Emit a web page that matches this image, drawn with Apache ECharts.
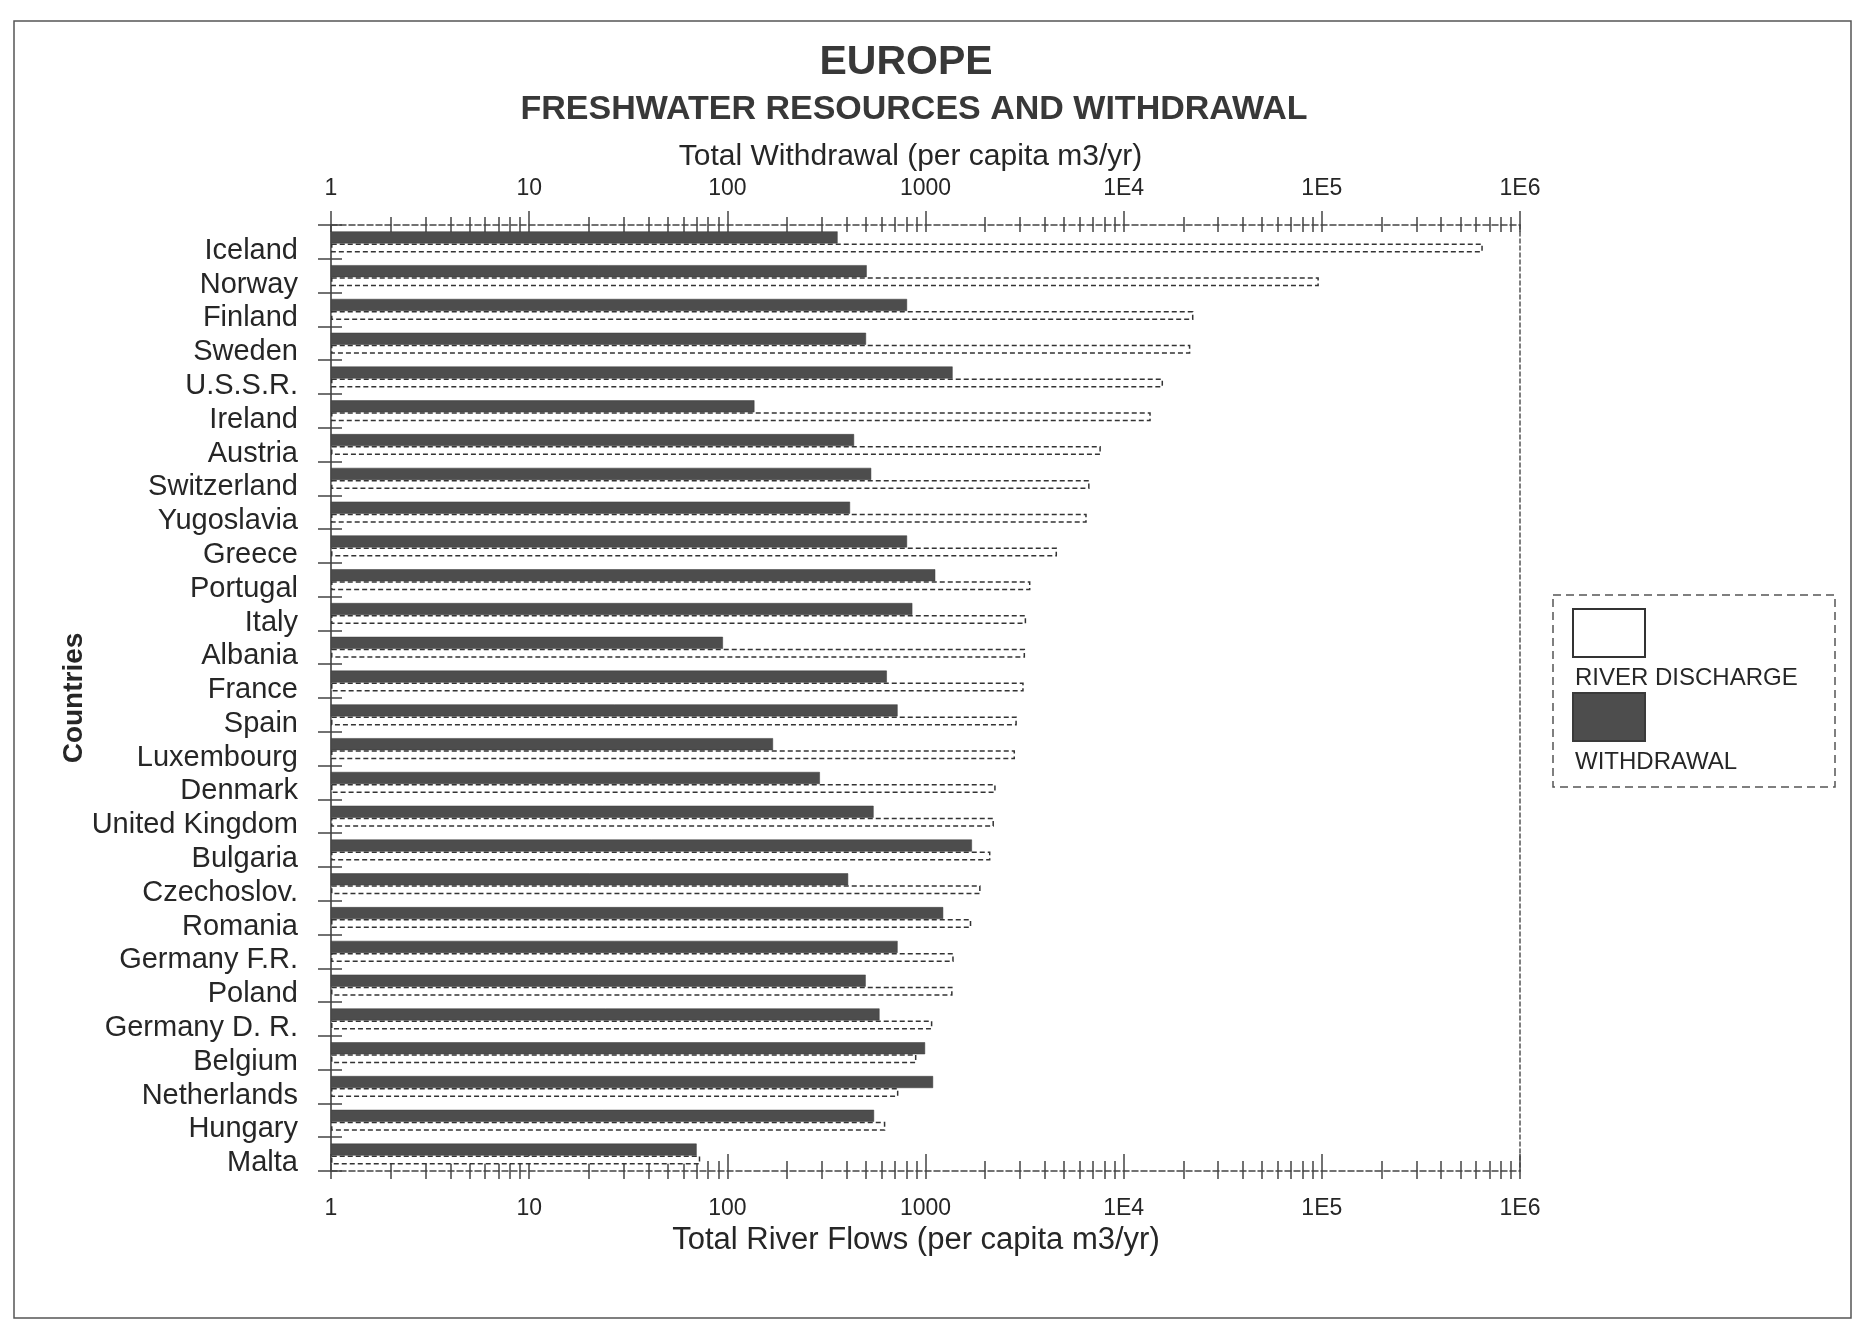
<!DOCTYPE html>
<html>
<head>
<meta charset="utf-8">
<title>Europe – Freshwater Resources and Withdrawal</title>
<script src="https://cdn.jsdelivr.net/npm/echarts@6/dist/echarts.min.js"></script>
<style>
  html, body { margin: 0; padding: 0; background: #fff; }
  #chart { width: 1867px; height: 1323px; }
</style>
</head>
<body>
<div id="chart"></div>
<script>
// Countries, top to bottom
const countries = [
  'Iceland', 'Norway', 'Finland', 'Sweden', 'U.S.S.R.', 'Ireland', 'Austria',
  'Switzerland', 'Yugoslavia', 'Greece', 'Portugal', 'Italy', 'Albania', 'France',
  'Spain', 'Luxembourg', 'Denmark', 'United Kingdom', 'Bulgaria', 'Czechoslov.',
  'Romania', 'Germany F.R.', 'Poland', 'Germany D. R.', 'Belgium', 'Netherlands',
  'Hungary', 'Malta'
];

// Total withdrawal, m3 per capita per year
const withdrawal = [
  360, 505, 807, 501, 1370, 137, 436,
  532, 416, 807, 1120, 858, 95, 638,
  723, 170, 293, 547, 1715, 407,
  1228, 723, 499, 586, 995, 1092,
  550, 70
];

// Total river flows (discharge), m3 per capita per year
const discharge = [
  649000, 96600, 22500, 21700, 15800, 13700, 7670,
  6730, 6510, 4610, 3385, 3220, 3180, 3130,
  2890, 2830, 2260, 2215, 2127, 1897,
  1702, 1388, 1370, 1083, 900, 730,
  627, 73
];

// Decade tick labels, 10^0 .. 10^6
const decadeLabels = ['1', '10', '100', '1000', '1E4', '1E5', '1E6'];

const FONT = '"Liberation Sans", Arial, Helvetica, sans-serif';
const INK = '#262626';
const LINE = '#444';

function decadeLabel(v) {
  const k = Math.round(Math.log10(v));
  return decadeLabels[k] !== undefined ? decadeLabels[k] : '';
}

// One log axis definition; the variants below differ only in what they show
function logAxis(extra) {
  return Object.assign({
    type: 'log',
    logBase: 10,
    min: 1,
    max: 1e6,
    interval: 1,
    splitLine: { show: false },
    minorSplitLine: { show: false },
    axisLine: { show: false },
    axisLabel: { show: false },
    axisTick: { show: false },
    minorTick: { show: false }
  }, extra);
}

const tickStyle = { color: LINE, width: 1.5 };

const chart = echarts.init(document.getElementById('chart'), null, { renderer: 'canvas' });

chart.setOption({
  backgroundColor: '#ffffff',
  animation: false,
  textStyle: { fontFamily: FONT },
  title: [
    {
      text: 'EUROPE',
      left: 901, top: 37, textAlign: 'center',
      textStyle: { fontFamily: FONT, fontSize: 41, fontWeight: 'bold', color: '#383838' }
    },
    {
      text: 'FRESHWATER RESOURCES AND WITHDRAWAL',
      left: 909, top: 88, textAlign: 'center',
      textStyle: { fontFamily: FONT, fontSize: 34, fontWeight: 'bold', color: '#383838' }
    }
  ],
  grid: { left: 331, right: 347, top: 225, bottom: 152, containLabel: false },
  xAxis: [
    // top axis: withdrawal scale, labels and upward ticks
    logAxis({
      position: 'top',
      name: 'Total Withdrawal (per capita m3/yr)',
      nameLocation: 'middle',
      nameGap: 47,
      nameTextStyle: { fontFamily: FONT, fontSize: 30, color: INK, padding: [0, 30, 0, 0] },
      axisLine: { show: true, lineStyle: { color: LINE, width: 1.5, type: [6, 3] } },
      axisLabel: { show: true, margin: 25, fontFamily: FONT, fontSize: 23, color: INK, formatter: decadeLabel },
      axisTick: { show: true, inside: false, length: 14, lineStyle: tickStyle },
      minorTick: { show: true, splitNumber: 9, length: 8, lineStyle: tickStyle }
    }),
    // top axis: downward halves of the crossing ticks
    logAxis({
      position: 'top',
      axisTick: { show: true, inside: true, length: 7, lineStyle: tickStyle },
      minorTick: { show: true, splitNumber: 9, length: 7, lineStyle: tickStyle }
    }),
    // bottom axis: river flow scale, labels and downward ticks
    logAxis({
      position: 'bottom',
      name: 'Total River Flows (per capita m3/yr)',
      nameLocation: 'middle',
      nameGap: 53,
      nameTextStyle: { fontFamily: FONT, fontSize: 31, color: INK, padding: [0, 19, 0, 0] },
      axisLine: { show: true, lineStyle: { color: LINE, width: 1.5, type: [6, 3] } },
      axisLabel: { show: true, margin: 26, fontFamily: FONT, fontSize: 23, color: INK, formatter: decadeLabel },
      axisTick: { show: true, inside: false, length: 8, lineStyle: tickStyle },
      minorTick: { show: true, splitNumber: 9, length: 8, lineStyle: tickStyle }
    }),
    // bottom axis: upward halves of the crossing ticks
    logAxis({
      position: 'bottom',
      axisTick: { show: true, inside: true, length: 17, lineStyle: tickStyle },
      minorTick: { show: true, splitNumber: 9, length: 10, lineStyle: tickStyle }
    })
  ],
  yAxis: [
    {
      type: 'category',
      data: countries,
      inverse: true,
      position: 'left',
      name: 'Countries',
      nameLocation: 'middle',
      nameGap: 243,
      nameRotate: 90,
      nameMoveOverlap: false,
      nameTextStyle: { fontFamily: FONT, fontSize: 28, fontWeight: 'bold', color: INK },
      axisLine: { show: true, lineStyle: { color: '#333', width: 1.5 } },
      axisTick: { show: true, inside: false, length: 13, lineStyle: tickStyle },
      axisLabel: {
        show: true, interval: 0, margin: 33, fontFamily: FONT, fontSize: 29, color: INK,
        verticalAlign: 'top', lineHeight: 18
      },
      splitLine: { show: false }
    },
    {
      type: 'category',
      data: countries,
      inverse: true,
      position: 'left',
      axisLine: { show: false },
      axisTick: { show: true, inside: true, length: 11, lineStyle: tickStyle },
      axisLabel: { show: false },
      splitLine: { show: false }
    },
    {
      type: 'category',
      data: countries,
      inverse: true,
      position: 'right',
      axisLine: { show: true, lineStyle: { color: '#555', width: 1.5, type: [4, 3] } },
      axisTick: { show: false },
      axisLabel: { show: false },
      splitLine: { show: false }
    }
  ],
  legend: {
    orient: 'vertical',
    left: 1572,
    top: 608,
    padding: 0,
    itemWidth: 72,
    itemHeight: 48,
    itemGap: 2,
    icon: 'rect',
    selectedMode: false,
    data: ['RIVER DISCHARGE', 'WITHDRAWAL'],
    // caption sits underneath its swatch
    formatter: function (name) { return '{gap| }\n{cap|' + name + '}'; },
    textStyle: {
      fontFamily: FONT, fontSize: 24, color: INK, padding: [0, 0, 0, -75],
      rich: {
        gap: { lineHeight: 90, fontSize: 10 },
        cap: { lineHeight: 28, fontFamily: FONT, fontSize: 24, color: INK }
      }
    }
  },
  graphic: [
    // outer sheet frame
    {
      type: 'rect', silent: true, z: -1,
      shape: { x: 14, y: 21, width: 1837, height: 1297 },
      style: { fill: null, stroke: '#555', lineWidth: 1.5 }
    },
    // legend frame
    {
      type: 'rect', silent: true,
      shape: { x: 1553, y: 595, width: 282, height: 192 },
      style: { fill: null, stroke: '#555', lineWidth: 1.5, lineDash: [8, 5] }
    }
  ],
  series: [
    {
      name: 'WITHDRAWAL',
      type: 'bar',
      xAxisIndex: 0,
      yAxisIndex: 0,
      data: withdrawal,
      barWidth: 12,
      barGap: '0%',
      itemStyle: { color: '#4d4d4d', borderColor: '#3a3a3a', borderWidth: 0.5 },
      z: 3
    },
    {
      name: 'RIVER DISCHARGE',
      type: 'bar',
      xAxisIndex: 0,
      yAxisIndex: 0,
      data: discharge,
      barWidth: 9,
      barGap: '0%',
      itemStyle: { color: '#ffffff', borderColor: '#333', borderWidth: 1.5, borderType: [5, 3] },
      z: 2
    }
  ]
});
</script>
</body>
</html>
